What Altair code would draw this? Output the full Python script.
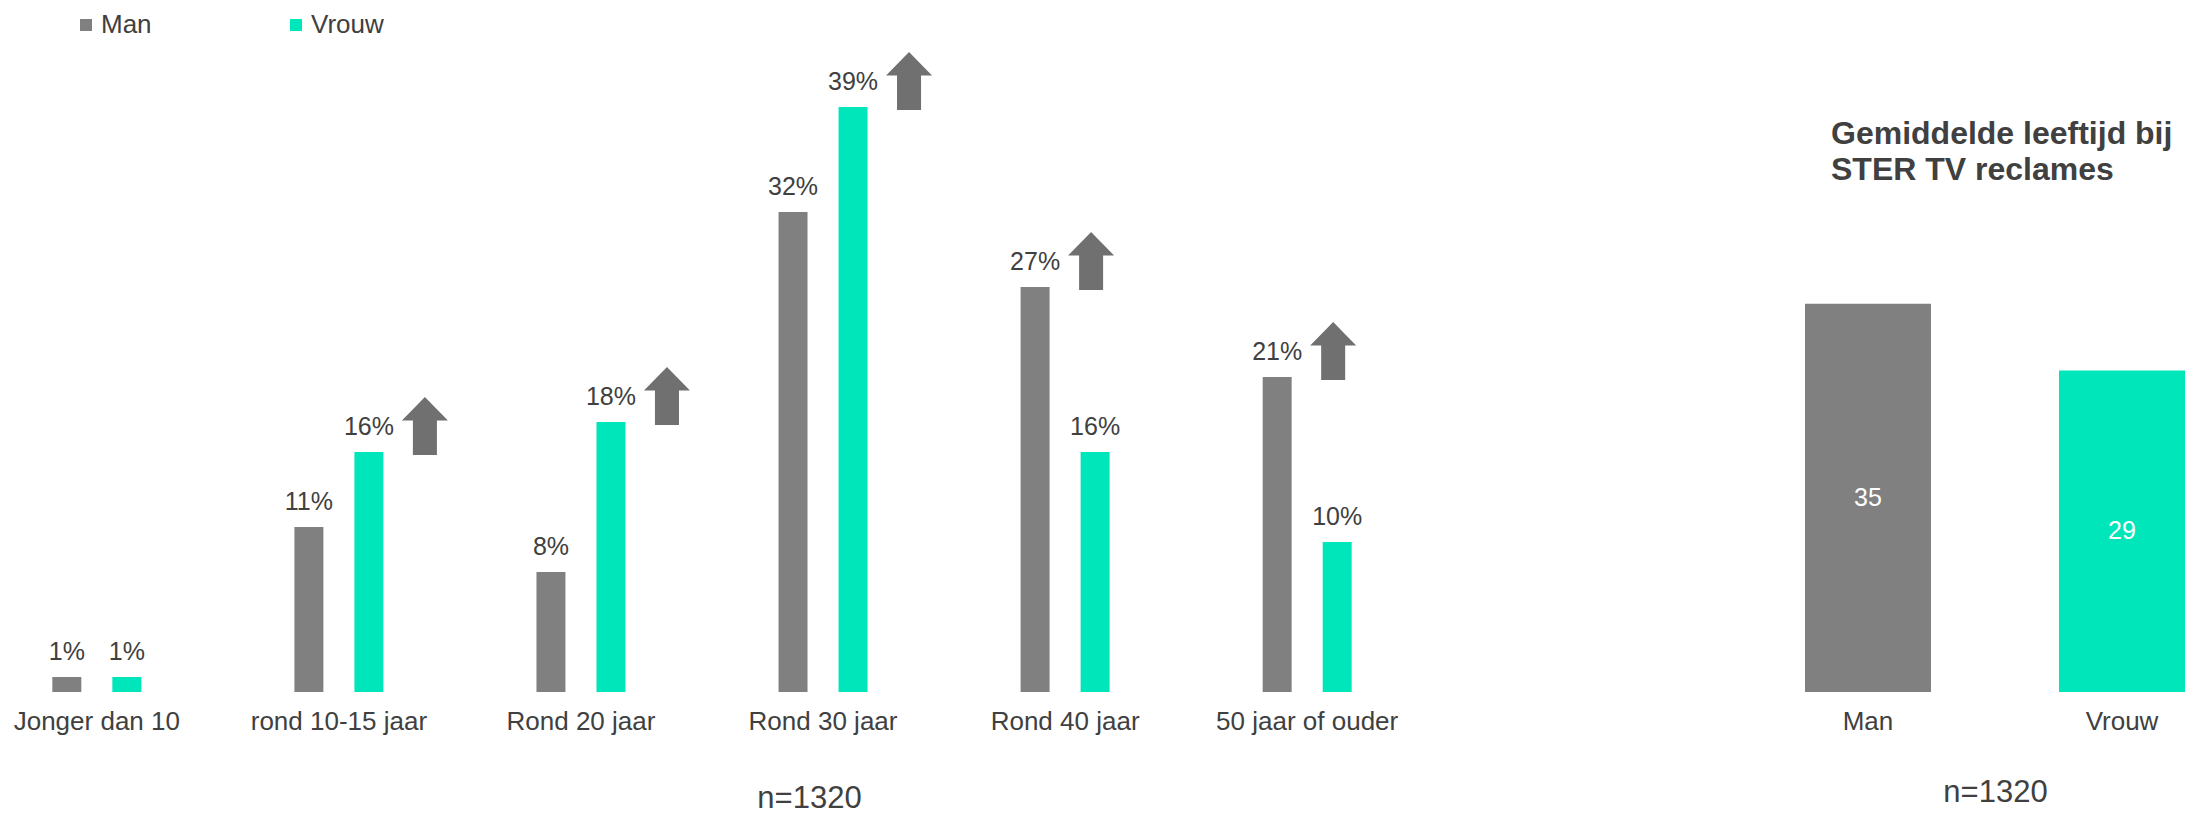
import altair as alt
import pandas as pd

# ---- data ----
categories = ["Jonger dan 10", "rond 10-15 jaar", "Rond 20 jaar", "Rond 30 jaar", "Rond 40 jaar", "50 jaar of ouder"]
man_pct = [1, 11, 8, 32, 27, 21]
vrouw_pct = [1, 16, 18, 39, 16, 10]
genders = ["Man", "Vrouw"]
avg_age = [35, 29]
sample_note = "n=1320"
avg_title = ["Gemiddelde leeftijd bij", "STER TV reclames"]

# ---- styles ----
GREY = "#808080"
TEAL = "#00E6BB"
ARROW = "#707070"
TEXT = "#404040"
FONT = "Liberation Sans"

rows = []
for c, m, v in zip(categories, man_pct, vrouw_pct):
    rows.append({"cat": c, "gender": "Man", "value": m})
    rows.append({"cat": c, "gender": "Vrouw", "value": v})
left_df = pd.DataFrame(rows)
right_df = pd.DataFrame({"gender": genders, "age": avg_age})
one_df = pd.DataFrame({"k": [0]})

color = alt.Color(
    "gender:N",
    scale=alt.Scale(domain=genders, range=[GREY, TEAL]),
    legend=alt.Legend(
        title=None, orient="none", legendX=73, legendY=12, direction="horizontal",
        symbolType="square", symbolSize=144, symbolStrokeWidth=0, symbolOpacity=1,
        labelFontSize=26, labelColor=TEXT, labelFont=FONT,
        labelOffset=2, columnPadding=131, padding=0,
    ),
)

# ---- left panel: age distribution ----
x_left = alt.X(
    "cat:N", sort=categories,
    scale=alt.Scale(paddingInner=0.2, paddingOuter=0),
    axis=alt.Axis(
        title=sample_note, labelAngle=0, domain=False, ticks=False, tickSize=0,
        labelPadding=16, labelFontSize=26, labelColor=TEXT, labelFont=FONT, labelLimit=400,
        titleX=809, titleY=106, titleBaseline="middle", titleFontSize=31,
        titleFontWeight="normal", titleColor=TEXT, titleFont=FONT,
    ),
)
xo_left = alt.XOffset("gender:N", sort=genders,
                      scale=alt.Scale(paddingInner=0.517, paddingOuter=0.872))
y_left = alt.Y("value:Q", scale=alt.Scale(domain=[0, 46.13], nice=False), axis=None)

base_left = alt.Chart(left_df).encode(x=x_left, xOffset=xo_left, y=y_left)
bars_left = base_left.mark_bar().encode(color=color)
labels_left = base_left.transform_calculate(
    label="datum.value + '%'"
).mark_text(baseline="alphabetic", dy=-17, fontSize=25, color=TEXT, font=FONT).encode(text="label:N")

# up-arrow glyph, drawn to the upper right of the larger bar of each pair
ARROW_PATH = ("M1.931,-1.897 L2.724,-1.086 L2.345,-1.086 L2.345,0.103 "
              "L1.517,0.103 L1.517,-1.086 L1.138,-1.086 Z")
arrows = base_left.transform_joinaggregate(
    vmax="max(value)", vmin="min(value)", groupby=["cat"]
).transform_filter(
    "datum.value == datum.vmax && datum.vmax > datum.vmin"
).mark_point(shape=ARROW_PATH, size=3364, filled=True, color=ARROW, opacity=1, strokeWidth=0)

left = alt.layer(bars_left, labels_left, arrows).properties(width=1404, height=692)

# ---- right panel: average age ----
x_right = alt.X(
    "gender:N", sort=genders,
    scale=alt.Scale(paddingInner=0.504, paddingOuter=0),
    axis=alt.Axis(
        title=sample_note, labelAngle=0, domain=False, ticks=False, tickSize=0,
        labelPadding=16, labelFontSize=26, labelColor=TEXT, labelFont=FONT,
        titleY=100, titleBaseline="middle", titleFontSize=31,
        titleFontWeight="normal", titleColor=TEXT, titleFont=FONT,
    ),
)
yscale_r = alt.Scale(domain=[0, 62.4], nice=False)
bars_right = alt.Chart(right_df).mark_bar().encode(
    x=x_right, y=alt.Y("age:Q", scale=yscale_r, axis=None), color=color
)
vals_right = alt.Chart(right_df).transform_calculate(mid="datum.age / 2").mark_text(
    baseline="middle", fontSize=25, color="white", font=FONT
).encode(x=x_right, y=alt.Y("mid:Q", scale=yscale_r, axis=None), text="age:Q")
title_right = alt.Chart(one_df).mark_text(
    align="left", baseline="alphabetic", fontSize=32, fontWeight="bold",
    lineHeight=36, color=TEXT, font=FONT
).encode(x=alt.value(26), y=alt.value(144), text=alt.value(avg_title))

right = alt.layer(bars_right, vals_right, title_right).properties(width=380, height=692)

chart = alt.hconcat(left, right, spacing=401).resolve_scale(
    color="shared", x="independent", y="independent"
).properties(padding=0).configure(
    font=FONT, view=alt.ViewConfig(stroke=None)
)

chart.save("out.html", embed_options={"renderer": "svg", "actions": False})
